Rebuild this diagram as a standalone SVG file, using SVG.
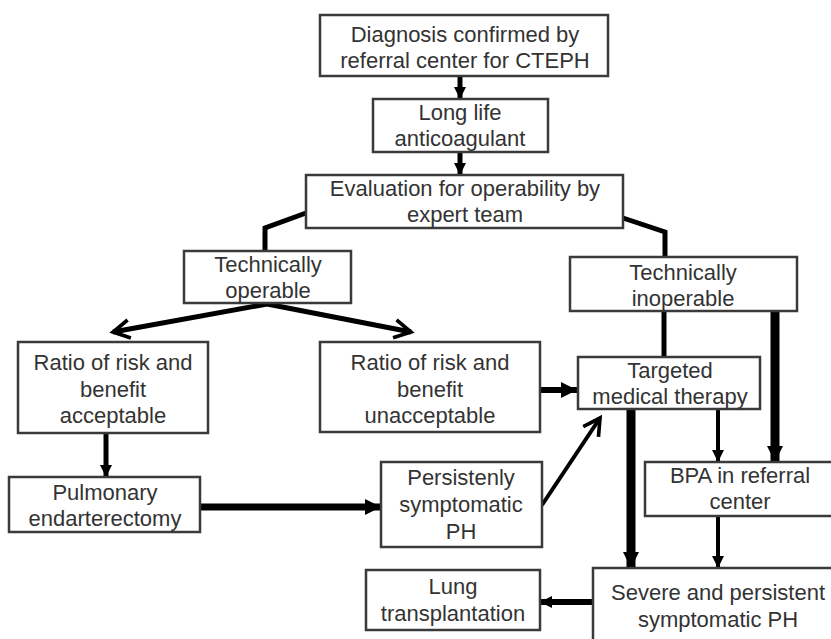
<svg xmlns="http://www.w3.org/2000/svg" width="831" height="639" viewBox="0 0 831 639">
<style>
.box{fill:#fff;stroke:#3a3a3a;stroke-width:2.5}
text{font-family:"Liberation Sans",Arial,sans-serif;font-size:22px;fill:#333;text-anchor:middle}
.c{fill:none;stroke:#000;stroke-linejoin:miter}
</style>
<defs>
<marker id="ah" viewBox="0 0 10 10" refX="10" refY="5" markerUnits="userSpaceOnUse" markerWidth="16" markerHeight="16" orient="auto">
<path d="M0,0 L10,5 L0,10 z" fill="#000"/>
</marker>
<marker id="ahs" viewBox="0 0 10 10" refX="10" refY="5" markerUnits="userSpaceOnUse" markerWidth="12" markerHeight="12" orient="auto">
<path d="M0,0 L10,5 L0,10 z" fill="#000"/>
</marker>
<marker id="av" viewBox="0 0 12 12" refX="10" refY="6" markerUnits="userSpaceOnUse" markerWidth="22" markerHeight="22" orient="auto">
<path d="M1,1 L10,6 L1,11" fill="none" stroke="#000" stroke-width="2"/>
</marker>
</defs>
<g id="connectors">
<path class="c" d="M460,76 V99" stroke-width="5" marker-end="url(#ahs)"/>
<path class="c" d="M460,152 V175" stroke-width="5" marker-end="url(#ahs)"/>
<path class="c" d="M306,213 L265,228 V251" stroke-width="5"/>
<path class="c" d="M623,218 L665,232 V257" stroke-width="5"/>
<path class="c" d="M267,304 L113,332" stroke-width="5" marker-end="url(#av)"/>
<path class="c" d="M267,304 L411,332" stroke-width="5" marker-end="url(#av)"/>
<path class="c" d="M106,433 V477" stroke-width="5" marker-end="url(#ahs)"/>
<path class="c" d="M200,507 H381" stroke-width="7" marker-end="url(#ah)"/>
<path class="c" d="M540,390 H577" stroke-width="6" marker-end="url(#ah)"/>
<path class="c" d="M542,505 L600,418" stroke-width="4" marker-end="url(#av)"/>
<path class="c" d="M664,311 V357" stroke-width="5"/>
<path class="c" d="M775,311 V462" stroke-width="9" marker-end="url(#ah)"/>
<path class="c" d="M718,409 V462" stroke-width="4" marker-end="url(#ahs)"/>
<path class="c" d="M631,409 V568" stroke-width="9" marker-end="url(#ah)"/>
<path class="c" d="M718,516 V568" stroke-width="4" marker-end="url(#ahs)"/>
<path class="c" d="M593,602 H540" stroke-width="6" marker-end="url(#ahs)"/>
</g>
<g id="n1"><rect class="box" x="320" y="15" width="288" height="61"/><text x="465" y="42">Diagnosis confirmed by</text><text x="465" y="68">referral center for CTEPH</text></g>
<g id="n2"><rect class="box" x="373" y="99" width="175" height="53"/><text x="460" y="120">Long life</text><text x="460" y="146">anticoagulant</text></g>
<g id="n3"><rect class="box" x="306" y="175" width="317" height="53"/><text x="465" y="196">Evaluation for operability by</text><text x="465" y="222">expert team</text></g>
<g id="n4"><rect class="box" x="184" y="251" width="167" height="52"/><text x="268" y="272">Technically</text><text x="268" y="298">operable</text></g>
<g id="n5"><rect class="box" x="570" y="257" width="227" height="54"/><text x="683" y="280">Technically</text><text x="683" y="306">inoperable</text></g>
<g id="n6"><rect class="box" x="18" y="342" width="190" height="91"/><text x="113" y="370">Ratio of risk and</text><text x="113" y="397">benefit</text><text x="113" y="423">acceptable</text></g>
<g id="n7"><rect class="box" x="320" y="342" width="220" height="90"/><text x="430" y="370">Ratio of risk and</text><text x="430" y="397">benefit</text><text x="430" y="423">unacceptable</text></g>
<g id="n8"><rect class="box" x="578" y="357" width="182" height="52"/><text x="670" y="378">Targeted</text><text x="670" y="404">medical therapy</text></g>
<g id="n9"><rect class="box" x="9" y="477" width="191" height="55"/><text x="105" y="500">Pulmonary</text><text x="105" y="526">endarterectomy</text></g>
<g id="n10"><rect class="box" x="381" y="462" width="161" height="85"/><text x="461" y="485">Persistenly</text><text x="461" y="512">symptomatic</text><text x="461" y="539">PH</text></g>
<g id="n11"><rect class="box" x="645" y="462" width="195" height="54"/><text x="740" y="483">BPA in referral</text><text x="740" y="509">center</text></g>
<g id="n12"><rect class="box" x="366" y="570" width="174" height="60"/><text x="453" y="594">Lung</text><text x="453" y="621">transplantation</text></g>
<g id="n13"><rect class="box" x="593" y="568" width="250" height="80"/><text x="718" y="600">Severe and persistent</text><text x="718" y="627">symptomatic PH</text></g>
</svg>
